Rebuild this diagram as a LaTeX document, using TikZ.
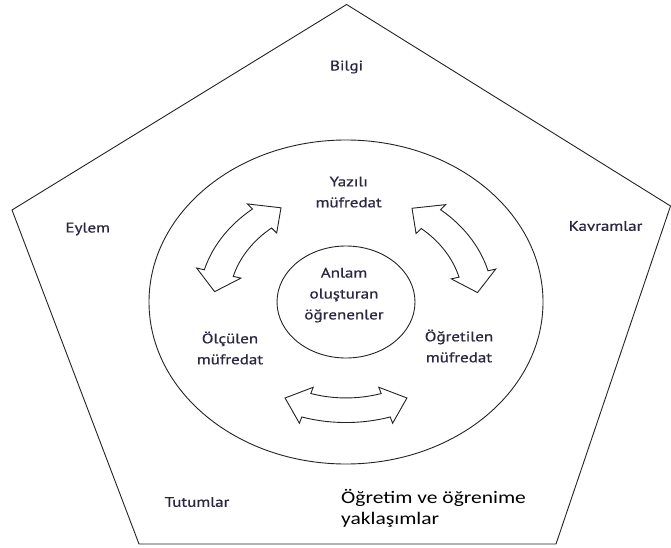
\documentclass[tikz,border=0pt]{standalone}
\usepackage{fontspec}
\setmainfont{PT Sans}
\newfontfamily\labfont{PT Sans}[FakeBold=0.6]
\newfontfamily\calfont{Carlito}
\usetikzlibrary{shapes.geometric}
\definecolor{lbl}{RGB}{45,38,65}
\definecolor{ln}{RGB}{35,35,35}
\newcommand{\dblcurve}[1]{%
  \begin{scope}[shift={(C)}, x=1pt, y=0.82pt]
    \pgfmathsetmacro\aA{#1+27.5}
    \pgfmathsetmacro\aB{#1-27.5}
    \pgfmathsetmacro\hA{#1+27.5-10}
    \pgfmathsetmacro\hB{#1-27.5+10}
    \draw[blockarrow] (\aA:132) -- (\hA:155) -- (\hA:147)
      -- plot[domain=\hA:\hB, samples=25] (\x:147)
      -- (\hB:155) -- (\aB:132) -- (\hB:109) -- (\hB:117)
      -- plot[domain=\hB:\hA, samples=25] (\x:117)
      -- (\hA:109) -- cycle;
  \end{scope}}
\begin{document}
\begin{tikzpicture}[x=1pt,y=-1pt,
  lab/.style={inner sep=0pt, text=lbl, font=\labfont\fontsize{17}{25.5}\selectfont, align=center, yscale=0.82},
  edge/.style={draw=ln, line width=0.9pt},
  blockarrow/.style={draw=ln, line width=0.9pt, line join=miter}]
\useasboundingbox (0,0) rectangle (671,548);
\coordinate (T) at (346.6,4.5);
\coordinate (R) at (670.5,206);
\coordinate (BR) at (556,544);
\coordinate (BL) at (139,544);
\coordinate (L) at (12,210);
\draw[edge] (T) -- (R) -- (BR) -- (BL) -- (L) -- cycle;
\coordinate (C) at (346,302);
\node[edge, ellipse, minimum width=394pt, minimum height=324pt, inner sep=0pt] (outer) at (C) {};
\node[edge, ellipse, minimum width=138pt, minimum height=112pt, inner sep=0pt] (inner) at (C) {};
\dblcurve{147}
\dblcurve{32.5}
\dblcurve{270}
\node[lab] (bilgi) at (346.6,67) {Bilgi};
\node[lab] (eylem) at (87.7,229) {Eylem};
\node[lab] (kavram) at (605.5,226) {Kavramlar};
\node[lab] (yazili) at (348.7,192) {Yazılı\\müfredat};
\node[lab] (anlam) at (344,295) {Anlam\\oluşturan\\öğrenenler};
\node[lab] (olculen) at (230,348) {Ölçülen\\müfredat};
\node[lab] (ogretilen) at (459,346) {Öğretilen\\müfredat};
\node[lab] (tutum) at (197,502) {Tutumlar};
\node[lab, text=black, font=\calfont\fontsize{21.5}{25.5}\selectfont, align=left, anchor=west] (yakl) at (341,508) {Öğretim ve öğrenime\\yaklaşımlar};
\end{tikzpicture}
\end{document}
